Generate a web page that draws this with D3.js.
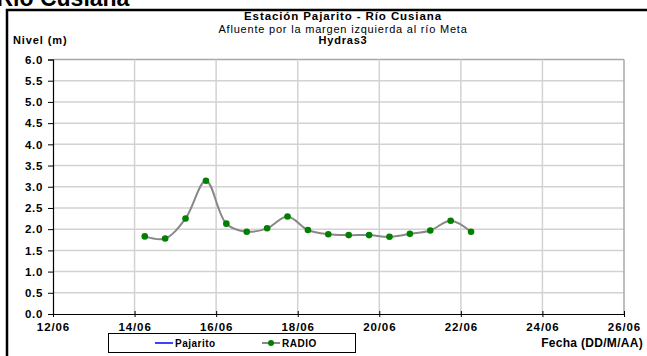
<!DOCTYPE html>
<html>
<head>
<meta charset="utf-8">
<script src="https://cdn.jsdelivr.net/npm/d3@7"></script>
<style>
  html, body { margin: 0; padding: 0; background: #fff; }
  svg { display: block; font-family: Arial, "Liberation Sans", sans-serif; }
</style>
</head>
<body>
<svg id="chart" width="647" height="356"></svg>
<script>
// ---- Data ----
const times = [
  "2006-06-14T06:00", "2006-06-14T18:00", "2006-06-15T06:00", "2006-06-15T18:00",
  "2006-06-16T06:00", "2006-06-16T18:00", "2006-06-17T06:00", "2006-06-17T18:00",
  "2006-06-18T06:00", "2006-06-18T18:00", "2006-06-19T06:00", "2006-06-19T18:00",
  "2006-06-20T06:00", "2006-06-20T18:00", "2006-06-21T06:00", "2006-06-21T18:00",
  "2006-06-22T06:00"
];
const radioValues = [1.83, 1.78, 2.25, 3.14, 2.13, 1.94, 2.02, 2.30, 1.98, 1.88, 1.86, 1.86, 1.82, 1.89, 1.97, 2.20, 1.94];
const pajaritoValues = []; // no visible data
const yTicks = [0, 0.5, 1, 1.5, 2, 2.5, 3, 3.5, 4, 4.5, 5, 5.5, 6];
const xTickDates = ["2006-06-12", "2006-06-14", "2006-06-16", "2006-06-18", "2006-06-20", "2006-06-22", "2006-06-24", "2006-06-26"];
const xTickLabels = ["12/06", "14/06", "16/06", "18/06", "20/06", "22/06", "24/06", "26/06"];
const legendNames = ["Pajarito", "RADIO"];

// ---- Setup ----
const svg = d3.select("#chart");
const parse = d3.timeParse("%Y-%m-%dT%H:%M");
const parseDay = d3.timeParse("%Y-%m-%d");
const data = times.map((t, i) => ({ date: parse(t), value: radioValues[i] }));
const tickDates = xTickDates.map(parseDay);

const pLeft = 53, pRight = 624, pTop = 59.5, pBottom = 314;
const x = d3.scaleTime().domain([tickDates[0], tickDates[tickDates.length - 1]]).range([pLeft, pRight]);
const y = d3.scaleLinear().domain([0, 6]).range([pBottom, pTop]);

// Outer frame (partially visible)
svg.append("rect").attr("x", 7).attr("y", 10).attr("width", 700).attr("height", 400)
  .attr("fill", "none").attr("stroke", "#000").attr("stroke-width", 2.5);

// Clipped big heading (cut off at the top edge, as in the reference)
svg.append("text").attr("x", -3.5).attr("y", 6)
  .attr("font-size", 23).attr("font-weight", "bold").attr("fill", "#000")
  .text("Río Cusiana");

// Titles
const cx = 343;
svg.append("text").attr("x", cx).attr("y", 20).attr("text-anchor", "middle")
  .attr("font-size", 11.5).attr("letter-spacing", 0.9).attr("font-weight", "bold").text("Estación Pajarito - Río Cusiana");
svg.append("text").attr("x", cx).attr("y", 32.5).attr("text-anchor", "middle")
  .attr("font-size", 11).attr("letter-spacing", 0.8).text("Afluente por la margen izquierda al río Meta");
svg.append("text").attr("x", cx).attr("y", 43.5).attr("text-anchor", "middle")
  .attr("font-size", 11).attr("letter-spacing", 0.8).attr("font-weight", "bold").text("Hydras3");

svg.append("text").attr("x", 13).attr("y", 44)
  .attr("font-size", 11).attr("letter-spacing", 0.9).attr("font-weight", "bold").text("Nivel (m)");

// Gridlines
const g = svg.append("g");
g.selectAll(".hg").data(yTicks.filter(d => d > 0)).join("line")
  .attr("x1", pLeft).attr("x2", pRight)
  .attr("y1", d => y(d)).attr("y2", d => y(d))
  .attr("stroke", d => d === 6 ? "#a8a8a8" : "#d2d2d2").attr("stroke-width", 1.5);
g.selectAll(".vg").data(tickDates.slice(1)).join("line")
  .attr("x1", d => x(d)).attr("x2", d => x(d))
  .attr("y1", pTop).attr("y2", pBottom)
  .attr("stroke", (d, i) => i === tickDates.length - 2 ? "#a8a8a8" : "#d2d2d2").attr("stroke-width", 1.5);

// Y axis
const yAxis = svg.append("g").attr("transform", `translate(${pLeft},0)`)
  .call(d3.axisLeft(y).tickValues(yTicks).tickFormat(d3.format(".1f")).tickSize(5).tickPadding(5));
yAxis.select(".domain").attr("stroke", "#000").attr("stroke-width", 1.2);
yAxis.selectAll(".tick line").attr("stroke", "#000");
yAxis.selectAll("text").attr("font-size", 11.5).attr("font-weight", "bold").attr("letter-spacing", 0.7)
  .attr("font-family", "Arial, 'Liberation Sans', sans-serif").attr("fill", "#000");

// X axis
const xAxis = svg.append("g").attr("transform", `translate(0,${pBottom})`)
  .call(d3.axisBottom(x).tickValues(tickDates).tickFormat((d, i) => xTickLabels[i]).tickSizeInner(3).tickSizeOuter(0).tickPadding(6));
xAxis.select(".domain").attr("stroke", "#000").attr("stroke-width", 1.2);
xAxis.selectAll(".tick line").attr("stroke", "#000").attr("y1", -3).attr("y2", 3);
xAxis.selectAll("text").attr("font-size", 11.5).attr("font-weight", "bold").attr("letter-spacing", 0.9)
  .attr("font-family", "Arial, 'Liberation Sans', sans-serif").attr("fill", "#000");

// Series line (smoothed)
const line = d3.line().x(d => x(d.date)).y(d => y(d.value)).curve(d3.curveCatmullRom.alpha(0.5));
svg.append("path").datum(data).attr("d", line)
  .attr("fill", "none").attr("stroke", "#888888").attr("stroke-width", 2);
svg.selectAll(".pt").data(data).join("circle")
  .attr("cx", d => x(d.date)).attr("cy", d => y(d.value)).attr("r", 3.3)
  .attr("fill", "#008000");

// X axis title
svg.append("text").attr("x", 643).attr("y", 347).attr("text-anchor", "end")
  .attr("font-size", 12).attr("letter-spacing", 0.3).attr("font-weight", "bold").text("Fecha (DD/M/AA)");

// Legend
const lg = svg.append("g");
lg.append("rect").attr("x", 108.5).attr("y", 333.5).attr("width", 247).attr("height", 19)
  .attr("fill", "#fff").attr("stroke", "#000").attr("stroke-width", 1);
lg.append("line").attr("x1", 155).attr("x2", 173).attr("y1", 343).attr("y2", 343)
  .attr("stroke", "#0000ff").attr("stroke-width", 1.5);
lg.append("text").attr("x", 175).attr("y", 346.5).attr("font-size", 10).attr("letter-spacing", 0.5).attr("font-weight", "bold").text(legendNames[0]);
lg.append("line").attr("x1", 262).attr("x2", 280).attr("y1", 343).attr("y2", 343)
  .attr("stroke", "#888888").attr("stroke-width", 2);
lg.append("circle").attr("cx", 271).attr("cy", 343).attr("r", 3).attr("fill", "#008000");
lg.append("text").attr("x", 282).attr("y", 346.5).attr("font-size", 10).attr("letter-spacing", 0.5).attr("font-weight", "bold").text(legendNames[1]);
</script>
</body>
</html>
